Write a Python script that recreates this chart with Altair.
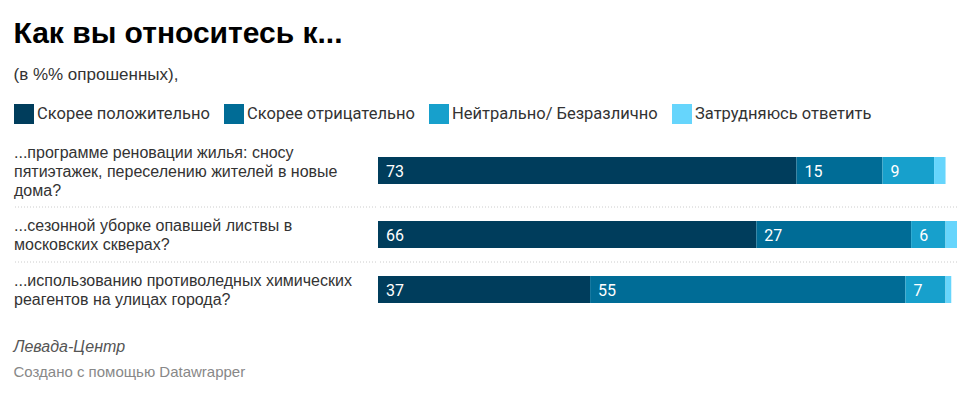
import altair as alt
import pandas as pd

# ---- data ----
questions = [
    "...программе реновации жилья: сносу\nпятиэтажек, переселению жителей в новые\nдома?",
    "...сезонной уборке опавшей листвы в\nмосковских скверах?",
    "...использованию противоледных химических\nреагентов на улицах города?",
]
answers = ["Скорее положительно", "Скорее отрицательно",
           "Нейтрально/ Безразлично", "Затрудняюсь ответить"]
positive = [73, 66, 37]
negative = [15, 27, 55]
neutral = [9, 6, 7]
unsure = [2, 2, 1]
colors = ["#003d5c", "#006c96", "#17a0cc", "#66d5fc"]

title_text = "Как вы относитесь к..."
subtitle_text = "(в %% опрошенных),"
source_text = "Левада-Центр"
credit_text = "Создано с помощью Datawrapper"

# ---- layout derived from label line counts ----
LINE_H = 19
n_lines = [q.count("\n") + 1 for q in questions]
row_h = [18 * (n - 1) + 37 for n in n_lines]
tops = [sum(row_h[:i]) for i in range(len(row_h))]
centers = [t + h / 2 for t, h in zip(tops, row_h)]
first_line = [c - (n - 1) * LINE_H / 2 + 1 for c, n in zip(centers, n_lines)]
total_h = sum(row_h)

series = [positive, negative, neutral, unsure]
records = []
for qi, q in enumerate(questions):
    start = 0
    for ai, a in enumerate(answers):
        v = series[ai][qi]
        records.append(dict(q=q, answer=a, order=ai, value=v,
                            start=start, end=start + v, center=centers[qi]))
        start += v
bars = pd.DataFrame(records)
xmax = bars.groupby("q")["end"].max().max()

rows = pd.DataFrame(dict(q=questions, ly=first_line))
seps = pd.DataFrame(dict(y=tops[1:]))

yscale = alt.Scale(domain=[0, total_h], reverse=True, nice=False, zero=False, padding=0)
xscale = alt.Scale(domain=[0, xmax], nice=False, zero=True, padding=0)

LEFT_W = 362
BAR_W = 579

sep_style = dict(color="#cccccc", strokeDash=[1, 2], strokeWidth=1)

# ---- label panel ----
labels = alt.Chart(rows).mark_text(
    align="left", baseline="middle", lineBreak="\n", lineHeight=LINE_H,
    font="Liberation Sans", fontSize=16, color="#333333"
).encode(
    x=alt.value(0),
    y=alt.Y("ly:Q", scale=yscale, axis=None),
    text="q:N",
)
sep_left = alt.Chart(seps).mark_rule(**sep_style).encode(
    y=alt.Y("y:Q", scale=yscale, axis=None)
)
left = alt.layer(sep_left, labels).properties(width=LEFT_W, height=total_h)

# ---- bar panel ----
bar_layer = alt.Chart(bars).mark_bar(size=27).encode(
    x=alt.X("start:Q", scale=xscale, axis=None),
    x2="end:Q",
    y=alt.Y("center:Q", scale=yscale, axis=None),
    color=alt.Color(
        "answer:N",
        scale=alt.Scale(domain=answers, range=colors),
        sort=answers,
        legend=alt.Legend(
            title=None, orient="none", direction="horizontal", columns=4,
            legendX=0, legendY=-30,
            symbolType="square", symbolSize=400, symbolStrokeWidth=0,
            symbolOpacity=1, labelFont="Roboto", labelFontSize=16.5,
            labelColor="#333333", labelOffset=3, columnPadding=14,
            labelLimit=400,
        ),
    ),
    order=alt.Order("order:Q"),
)
val_layer = alt.Chart(bars).transform_filter("datum.value >= 5").mark_text(
    align="left", baseline="middle", dx=8, dy=1,
    font="Roboto", fontSize=16, color="white"
).encode(
    x=alt.X("start:Q", scale=xscale, axis=None),
    y=alt.Y("center:Q", scale=yscale, axis=None),
    text="value:Q",
)
sep_right = alt.Chart(seps).mark_rule(**sep_style).encode(
    y=alt.Y("y:Q", scale=yscale, axis=None)
)
right = alt.layer(sep_right, bar_layer, val_layer).properties(width=BAR_W, height=total_h)

inner = alt.hconcat(left, right, spacing=0).properties(
    title=alt.TitleParams(
        text=source_text, subtitle=credit_text, orient="bottom", anchor="start",
        font="Liberation Sans", fontSize=16, fontStyle="italic", fontWeight="normal",
        color="#555555", subtitleFont="Liberation Sans", subtitleFontSize=15,
        subtitleColor="#888888", subtitlePadding=10, offset=22,
    )
)

chart = alt.vconcat(inner).properties(
    title=alt.TitleParams(
        text=title_text, subtitle=subtitle_text, anchor="start",
        font="Liberation Sans", fontSize=30, fontWeight="bold", color="#000000",
        subtitleFont="Liberation Sans", subtitleFontSize=17, subtitleColor="#333333",
        subtitlePadding=18, offset=21,
    ),
    padding={"left": 5, "top": 11, "right": 5, "bottom": 5},
).configure_view(stroke=None)

chart.save("out.html", embed_options={"renderer": "svg", "actions": False})
